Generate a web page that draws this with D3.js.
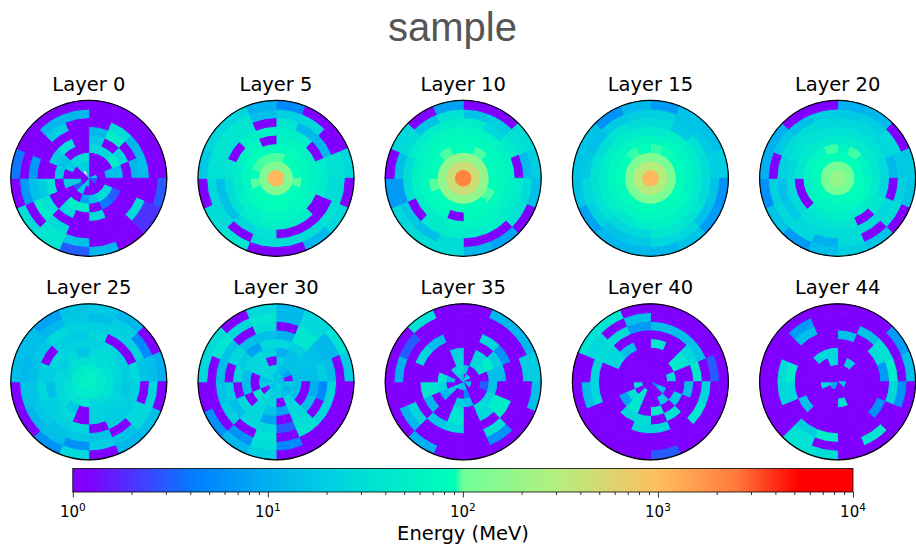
<!DOCTYPE html>
<html>
<head>
<meta charset="utf-8">
<script src="https://cdn.jsdelivr.net/npm/d3@7"></script>
<style>
html, body { margin: 0; padding: 0; background: #fff; }
text { font-family: "DejaVu Sans", sans-serif; fill: #000; }
</style>
</head>
<body>
<svg id="chart" width="916" height="548"></svg>
<script>
// energy per cell in MeV: one row per ring (centre first), 16 sectors clockwise from north.
// 0 is an empty cell, null was not drawn at all
var layer0 = [
  [0,0,0,25,3,3,0,0,16,20,0,0,0,0,null,20],
  [0,0,0,0,0,0,0,0,0,20,3,20,0,0,20,20],
  [0,0,0,14,0,25,30,16,8,0,0,20,0,20,25,30],
  [25,25,50,14,0,3,4,0,50,50,0,0,20,16,0,0],
  [18,0,25,0,0,0,0,30,0,30,0,35,0,20,35,0],
  [12,50,0,12,0,0,0,0,0,0,35,20,0,0,0,0],
  [0,30,12,14,0,30,0,0,0,30,50,14,7,0,20,0],
  [0,0,0,0,0,2,0,0,16,40,0,7,0,0,12,12],
  [0,0,0,0,3,2,0,12,3,40,30,0,4,0,0,0]
];
var layer5 = [
  [1100,1100,1100,1100,1100,1100,1100,1100,1100,1100,1100,1100,1100,1100,1100,1100],
  [135,135,135,135,135,135,135,135,135,135,135,135,135,135,135,135],
  [97,90,88,85,98,85,85,90,90,88,85,98,85,96,97,97],
  [75,80,75,70,70,75,80,85,85,80,70,70,70,80,85,75],
  [60,65,60,60,60,65,70,65,65,60,60,45,50,60,70,0],
  [55,50,0,50,45,0,50,55,55,45,35,30,40,0,55,60],
  [40,12,12,35,30,0,0,0,35,25,16,14,35,35,40,0],
  [22,25,0,35,30,35,30,30,30,0,28,25,35,40,40,14],
  [5,0,0,25,0,25,12,0,0,40,30,0,18,25,25,10]
];
var layer10 = [
  [2200,2200,2200,2200,2200,2200,2200,2200,2200,2200,2200,2200,2200,2200,2200,2200],
  [450,450,450,450,450,450,450,450,450,450,450,450,450,450,450,450],
  [170,170,170,170,170,170,170,170,170,170,170,170,170,170,170,170],
  [88,97,85,80,85,97,85,85,85,85,85,98,85,88,97,85],
  [80,78,78,75,78,78,78,78,0,78,75,75,75,78,80,78],
  [65,65,60,65,60,60,65,65,60,50,55,60,55,65,70,70],
  [50,25,45,0,50,45,55,45,50,45,0,30,30,45,50,50],
  [16,20,35,14,30,35,0,0,30,14,18,7,14,30,16,35],
  [0,0,30,20,14,0,8,12,30,30,25,7,0,25,0,8]
];
var layer15 = [
  [1100,1100,1100,1100,1100,1100,1100,1100,1100,1100,1100,1100,1100,1100,1100,1100],
  [320,320,320,320,320,320,320,320,320,320,320,320,320,320,320,320],
  [130,120,120,120,120,120,115,120,120,120,120,120,120,125,125,130],
  [95,92,85,80,88,90,80,80,88,85,80,85,85,88,95,85],
  [70,75,70,65,60,70,75,70,70,65,65,70,70,70,70,70],
  [45,55,50,50,45,50,55,60,50,40,50,50,50,50,50,45],
  [30,18,35,30,28,35,40,40,25,25,35,35,35,30,35,30],
  [22,16,18,20,16,14,25,25,18,16,22,25,18,14,18,20],
  [7,16,14,20,6,7,16,12,12,12,8,16,16,16,6,12]
];
var layer20 = [
  [190,190,190,190,190,190,190,190,190,190,190,190,190,190,190,190],
  [110,110,110,110,110,110,110,110,110,110,110,110,110,110,110,110],
  [85,88,85,85,85,88,85,80,80,80,80,80,80,85,85,88],
  [70,96,70,60,70,80,70,70,65,65,65,60,65,70,70,96],
  [45,45,45,40,45,50,50,50,50,45,0,0,40,45,45,45],
  [35,35,35,28,25,40,0,40,35,35,28,28,25,35,35,35],
  [25,25,25,12,0,25,30,30,28,28,18,14,22,30,30,25],
  [18,20,28,18,22,30,0,28,10,25,25,22,0,18,14,20],
  [10,12,0,18,16,0,16,20,14,7,16,6,10,10,0,0]
];
var layer25 = [
  [60,65,60,60,60,55,55,55,55,60,60,60,60,60,60,65],
  [50,50,45,45,50,45,45,45,45,45,50,45,50,45,45,50],
  [35,30,35,35,35,35,30,25,35,35,35,35,25,30,35,30],
  [25,30,25,25,22,25,22,22,0,18,30,25,25,20,25,16],
  [22,25,20,20,18,22,20,22,0,25,22,14,20,25,22,22],
  [25,0,0,25,22,20,20,0,25,22,20,25,20,0,20,18],
  [20,22,22,16,0,25,0,16,18,16,18,16,14,18,25,22],
  [14,20,5,14,25,25,16,20,6,14,12,16,12,14,12,18],
  [18,12,0,10,0,14,12,0,25,6,0,0,14,14,8,16]
];
var layer30 = [
  [16,25,12,14,14,20,25,25,20,16,14,25,14,25,25,16],
  [16,12,8,0,20,12,14,20,20,25,0,20,16,25,25,25],
  [20,14,16,14,14,16,25,0,25,25,40,0,0,25,25,0],
  [10,14,16,14,0,0,25,8,16,25,0,14,14,25,25,22],
  [25,20,16,14,10,14,25,0,8,25,25,0,25,20,8,25],
  [10,40,14,20,5,0,30,3,25,25,14,20,0,25,14,14],
  [0,40,12,14,25,25,35,0,35,0,20,16,14,16,0,30],
  [12,25,12,0,0,0,0,5,30,6,0,0,0,40,25,40],
  [12,25,35,20,0,0,0,0,20,12,6,0,25,30,0,25]
];
var layer35 = [
  [0,16,25,0,12,14,0,16,14,16,20,0,0,0,20,16],
  [16,0,0,0,0,0,0,5,0,0,20,0,14,0,25,30],
  [0,25,35,0,3,0,0,16,20,0,12,25,40,0,0,25],
  [0,25,50,14,16,25,30,0,35,0,0,40,0,0,0,20],
  [0,0,20,14,0,50,25,0,40,0,12,40,0,0,0,0],
  [0,25,6,0,0,50,0,0,25,18,0,0,0,25,14,0],
  [0,0,0,0,0,0,35,0,0,0,25,0,0,0,0,0],
  [0,0,0,20,0,0,6,0,0,0,12,0,10,3,0,0],
  [0,12,12,20,14,0,0,0,0,10,0,0,0,0,35,0]
];
var layer40 = [
  [0,0,0,0,0,6,0,0,0,0,0,0,0,0,0,0],
  [0,0,0,0,0,14,0,0,0,40,0,35,0,0,0,0],
  [0,0,0,30,0,0,20,0,0,40,30,0,0,0,0,0],
  [0,0,50,0,0,20,0,50,0,40,8,0,0,0,0,0],
  [40,0,40,0,14,0,35,0,30,25,0,0,0,25,14,0],
  [0,0,25,40,0,0,0,25,25,0,0,0,0,25,0,0],
  [14,14,16,0,25,40,0,0,0,0,0,25,25,30,30,7],
  [0,0,0,3,0,0,0,0,0,0,0,14,0,25,0,14],
  [0,0,0,0,0,0,0,3,0,0,0,0,0,35,40,0]
];
var layer44 = [
  [0,0,0,0,16,12,0,0,0,8,8,14,0,0,0,0],
  [0,0,0,0,0,0,0,0,0,0,0,30,0,0,0,0],
  [0,20,0,0,0,0,0,35,0,0,0,0,0,0,0,25],
  [0,0,0,0,0,0,0,0,0,0,0,0,0,0,25,25],
  [0,0,0,0,0,0,0,0,0,0,16,0,0,0,0,0],
  [16,0,30,7,0,6,0,0,0,0,0,25,50,0,0,0],
  [0,16,35,50,25,0,0,0,50,20,0,25,30,0,14,0],
  [0,0,0,0,6,0,40,0,0,35,0,0,0,0,7,0],
  [0,0,7,14,0,0,0,0,30,35,0,0,0,0,0,0]
];

var layerIds = [0, 5, 10, 15, 20, 25, 30, 35, 40, 44];
var layerData = [layer0, layer5, layer10, layer15, layer20, layer25, layer30, layer35, layer40, layer44];
var energyTicks = [1, 10, 100, 1000, 10000];
var minorTicks = [2,3,4,5,6,7,8,9,20,30,40,50,60,70,80,90,200,300,400,500,600,700,800,900,2000,3000,4000,5000,6000,7000,8000,9000];

// colormap
var cmapPos = [0, 0.02, 0.16, 0.25, 0.35, 0.49, 0.5, 0.62, 0.75, 0.85, 0.93, 1];
var cmapCol = ["#8000ff", "#8000ff", "#0080ff", "#00b0f0", "#00d8dc", "#00ffb8", "#70ff98", "#b4ee80", "#ffbe60", "#ff7a3c", "#ff0000", "#ff0000"];

var svg = d3.select("#chart");
var radius = 78, cols = 5;
var panelX = d3.scaleLinear().domain([0, cols - 1]).range([88.8, 837.6]);
var panelY = d3.scaleLinear().domain([0, 1]).range([178.3, 381.8]);
var ringScale = d3.scaleLinear().domain([0, 9]).range([0, radius]);
var sectorScale = d3.scaleLinear().domain([0, 16]).range([0, 2 * Math.PI]);

var energyNorm = d3.scaleLog().domain([1, 10000]).range([0, 1]).clamp(true);
var cmap = d3.scaleLinear().domain(cmapPos).range(cmapCol).interpolate(d3.interpolateRgb);
var energyColor = function(v) { return cmap(energyNorm(Math.max(v, 1))); };

var arc = d3.arc();

// the cell edges are soft in the original, this also hides the seams between wedges
var defs = svg.append("defs");
defs.append("filter")
    .attr("id", "soft")
    .append("feGaussianBlur")
    .attr("stdDeviation", 0.45);

layerIds.forEach(function(id, i) {
    var cx = panelX(i % cols), cy = panelY(Math.floor(i / cols));
    var g = svg.append("g").attr("transform", "translate(" + cx + "," + cy + ")");

    var cells = [];
    layerData[i].forEach(function(row, r) {
        row.forEach(function(v, s) {
            if (v !== null) cells.push({ring: r, sector: s, value: v});
        });
    });

    g.append("g")
        .attr("filter", "url(#soft)")
        .selectAll("path.cell")
        .data(cells)
        .enter()
        .append("path")
        .attr("class", "cell")
        .attr("d", function(d) {
            return arc({
                innerRadius: ringScale(d.ring),
                outerRadius: ringScale(d.ring + 1),
                startAngle: sectorScale(d.sector),
                endAngle: sectorScale(d.sector + 1)
            });
        })
        .attr("fill", function(d) { return energyColor(d.value); })
        .attr("stroke", function(d) { return energyColor(d.value); })
        .attr("stroke-width", 1);

    g.append("circle")
        .attr("r", radius)
        .attr("fill", "none")
        .attr("stroke", "#000")
        .attr("stroke-width", 1.2);

    g.append("text")
        .attr("y", -radius - 9.5)
        .attr("text-anchor", "middle")
        .attr("font-size", 19.5)
        .text("Layer " + id);
});

svg.append("text")
    .attr("x", 452.5)
    .attr("y", 41)
    .attr("text-anchor", "middle")
    .style("font-family", "'Liberation Sans', sans-serif")
    .style("fill", "#555")
    .attr("font-size", 40)
    .text("sample");

// colour bar
var barLeft = 72.8, barRight = 853, barTop = 468.5, barBottom = 492;
var barScale = d3.scaleLog().domain([1, 10000]).range([barLeft, barRight]);

var grad = defs.append("linearGradient").attr("id", "cbar");
grad.selectAll("stop")
    .data(cmapPos)
    .enter()
    .append("stop")
    .attr("offset", function(d) { return d; })
    .attr("stop-color", function(d, i) { return cmapCol[i]; });

svg.append("rect")
    .attr("x", barLeft)
    .attr("y", barTop)
    .attr("width", barRight - barLeft)
    .attr("height", barBottom - barTop)
    .attr("fill", "url(#cbar)")
    .attr("stroke", "#000")
    .attr("stroke-width", 0.8);

var axisG = svg.append("g").attr("transform", "translate(0," + barBottom + ")");
axisG.call(d3.axisBottom(barScale).tickValues(minorTicks).tickSize(3).tickFormat(""));
axisG.append("g").call(d3.axisBottom(barScale).tickValues(energyTicks).tickSize(5.5).tickFormat(""));
axisG.selectAll(".domain").remove();
axisG.selectAll("line").attr("stroke-width", 0.8);

var tickLabels = svg.selectAll("text.ticklabel")
    .data(energyTicks)
    .enter()
    .append("text")
    .attr("class", "ticklabel")
    .attr("x", function(d) { return barScale(d); })
    .attr("y", 517)
    .attr("text-anchor", "middle")
    .attr("font-size", 15);
tickLabels.append("tspan").text("10");
tickLabels.append("tspan")
    .attr("dy", -6.5)
    .attr("font-size", 10.5)
    .text(function(d) { return Math.round(Math.log10(d)); });

svg.append("text")
    .attr("x", 463)
    .attr("y", 540)
    .attr("text-anchor", "middle")
    .attr("font-size", 19.5)
    .text("Energy (MeV)");
</script>
</body>
</html>
